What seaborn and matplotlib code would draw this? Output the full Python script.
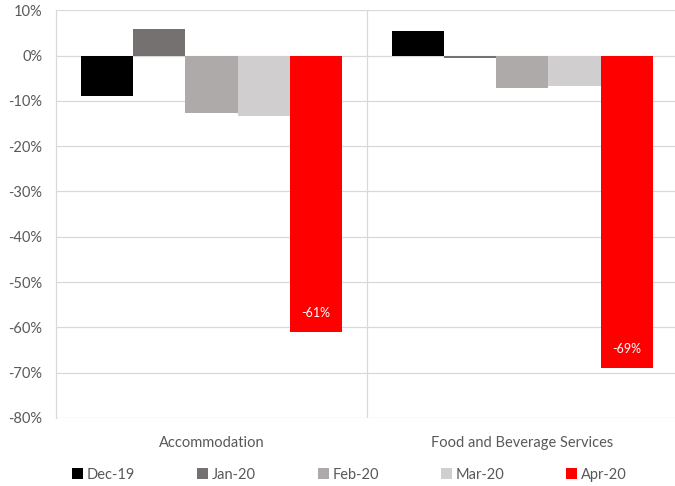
import matplotlib
matplotlib.use("Agg")
import matplotlib.pyplot as plt
import seaborn as sns
import pandas as pd
from matplotlib.ticker import FuncFormatter

# Monthly change by sector, in percent
sectors = ["Accommodation", "Food and Beverage Services"]
months = ["Dec-19", "Jan-20", "Feb-20", "Mar-20", "Apr-20"]
accommodation = [-9.0, 5.8, -12.7, -13.4, -61.0]
food_beverage = [5.4, -0.6, -7.2, -6.8, -69.0]
month_colors = ["#000000", "#767171", "#AEAAAA", "#D0CECE", "#FF0000"]

rows = []
for sector, vals in zip(sectors, [accommodation, food_beverage]):
    for m, v in zip(months, vals):
        rows.append({"sector": sector, "month": m, "change": v})
df = pd.DataFrame(rows)

sns.set_theme(style="white")
plt.rcParams["font.family"] = ["Lato", "DejaVu Sans"]
text_color = "#595959"
grid_color = "#D9D9D9"

fig = plt.figure(figsize=(6.75, 4.86), dpi=100)
ax = fig.add_axes([0.083, 0.140, 0.921, 0.839])

sns.barplot(data=df, x="sector", y="change", hue="month", order=sectors,
            hue_order=months, palette=month_colors, width=0.84, gap=0,
            saturation=1, linewidth=0, ax=ax, legend=True)

ax.set_ylim(-80, 10)
ax.set_yticks(range(-80, 11, 10))
ax.yaxis.set_major_formatter(FuncFormatter(lambda v, _: f"{int(v)}%"))
ax.set_xlim(-0.5, 1.5)
ax.set_xlabel("")
ax.set_ylabel("")

ax.grid(axis="y", color=grid_color, linewidth=0.9)
ax.set_axisbelow(True)
for s in ["top", "right", "bottom"]:
    ax.spines[s].set_visible(False)
ax.spines["left"].set_color(grid_color)
ax.spines["left"].set_linewidth(0.9)
ax.axvline(0.5, color=grid_color, linewidth=0.9, zorder=0)

ax.tick_params(axis="y", colors=text_color, labelsize=10.5, length=0, pad=10)
ax.tick_params(axis="x", colors=text_color, labelsize=10.5, length=0, pad=13)

# Value labels on the April bars
apr = ax.containers[-1]
ax.bar_label(apr, labels=[f"{v:.0f}%" for v in [accommodation[-1], food_beverage[-1]]],
             label_type="edge", padding=-18, color="white", fontsize=9)

handles, labels = ax.get_legend_handles_labels()
ax.legend(handles, labels, loc="upper center", bbox_to_anchor=(0.472, -0.09),
          ncol=5, frameon=False, fontsize=10.5, labelcolor=text_color,
          handlelength=0.75, handleheight=0.75, handletextpad=0.25,
          columnspacing=4.25)

fig.savefig("out.png", dpi=100)
